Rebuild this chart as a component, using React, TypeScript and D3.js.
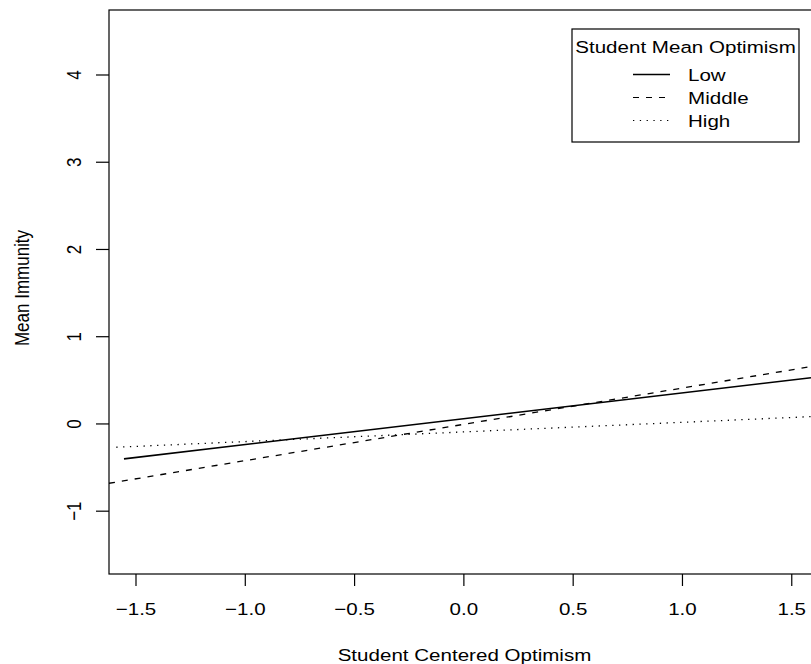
import React, { useRef, useEffect } from 'react';
import * as d3 from 'd3';

// series: fitted simple slopes (endpoints only)
const seriesNames = ['Low', 'Middle', 'High'];
const seriesXStart = [-1.555, -1.6235, -1.59];
const seriesXEnd = [1.588, 1.588, 1.588];
const seriesYStart = [-0.4, -0.68, -0.267];
const seriesYEnd = [0.53, 0.657, 0.084];
const seriesDash = ['', '6,7', '1.3,5.5'];

const xTicks = [-1.5, -1.0, -0.5, 0.0, 0.5, 1.0, 1.5];
const yTicks = [-1, 0, 1, 2, 3, 4];
const xDomain = [-1.6235, 1.588];
const yDomain = [-1.72, 4.745];

const W = 811;
const H = 664;
const margin = { top: 10, right: 0, bottom: 90, left: 109 };
const FONT = '"Liberation Sans", Arial, Helvetica, sans-serif';
const SX = 1.21; // the reference is stretched horizontally

const fmt = (v: number, digits: number) => v.toFixed(digits).replace('-', '\u2212');

const App = () => {
  const svgRef = useRef<SVGSVGElement>(null);

  useEffect(() => {
    const svg = d3.select(svgRef.current);
    svg.selectAll('*').remove();

    const x = d3.scaleLinear().domain(xDomain).range([margin.left, W - margin.right]);
    const y = d3.scaleLinear().domain(yDomain).range([H - margin.bottom, margin.top]);

    const text = (g: any, tx: number, ty: number, s: string, anchor: string, rot = 0) =>
      g
        .append('text')
        .attr('transform', `translate(${tx},${ty}) scale(${SX},1)${rot ? ` rotate(${rot})` : ''}`)
        .attr('text-anchor', anchor)
        .attr('font-family', FONT)
        .attr('font-size', 17)
        .attr('fill', '#000')
        .text(s);

    svg
      .append('defs')
      .append('clipPath')
      .attr('id', 'plotclip')
      .append('rect')
      .attr('x', margin.left)
      .attr('y', margin.top)
      .attr('width', W - margin.left - margin.right)
      .attr('height', H - margin.top - margin.bottom);

    // lines
    const line = d3
      .line<[number, number]>()
      .x(d => x(d[0]))
      .y(d => y(d[1]));
    const lines = svg.append('g').attr('clip-path', 'url(#plotclip)');
    seriesNames.forEach((name, i) => {
      const pts: [number, number][] = [
        [seriesXStart[i], seriesYStart[i]],
        [seriesXEnd[i], seriesYEnd[i]],
      ];
      lines
        .append('path')
        .datum(pts)
        .attr('d', line)
        .attr('fill', 'none')
        .attr('stroke', '#000')
        .attr('stroke-width', i === 0 ? 1.6 : 1.3)
        .attr('stroke-dasharray', seriesDash[i] || null);
    });

    // plot box
    svg
      .append('rect')
      .attr('x', margin.left)
      .attr('y', margin.top)
      .attr('width', W - margin.left - margin.right + 2)
      .attr('height', H - margin.top - margin.bottom)
      .attr('fill', 'none')
      .attr('stroke', '#000')
      .attr('stroke-width', 1.2);

    // x axis
    const xa = svg.append('g');
    const x0 = H - margin.bottom;
    xTicks.forEach(t => {
      xa.append('line')
        .attr('x1', x(t)).attr('x2', x(t))
        .attr('y1', x0).attr('y2', x0 + 12)
        .attr('stroke', '#000').attr('stroke-width', 1.2);
      text(xa, x(t), 615, fmt(t, 1), 'middle');
    });
    text(xa, 464.5, 661, 'Student Centered Optimism', 'middle');

    // y axis
    const ya = svg.append('g');
    yTicks.forEach(t => {
      ya.append('line')
        .attr('x1', margin.left - 13).attr('x2', margin.left)
        .attr('y1', y(t)).attr('y2', y(t))
        .attr('stroke', '#000').attr('stroke-width', 1.2);
      text(ya, 80.5, y(t), fmt(t, 0), 'middle', -90);
    });
    text(ya, 29, (margin.top + H - margin.bottom) / 2 - 4, 'Mean Immunity', 'middle', -90);

    // legend
    const lg = svg.append('g');
    const lx0 = 572;
    const lx1 = 799;
    lg.append('rect')
      .attr('x', lx0).attr('y', 29)
      .attr('width', lx1 - lx0).attr('height', 113)
      .attr('fill', '#fff').attr('stroke', '#000').attr('stroke-width', 1.2);
    text(lg, (lx0 + lx1) / 2, 53, 'Student Mean Optimism', 'middle');
    const rowY = [74.5, 97.5, 120.5];
    seriesNames.forEach((name, i) => {
      lg.append('line')
        .attr('x1', 633).attr('x2', 670)
        .attr('y1', rowY[i]).attr('y2', rowY[i])
        .attr('stroke', '#000')
        .attr('stroke-width', i === 0 ? 1.3 : 1.2)
        .attr('stroke-dasharray', seriesDash[i] || null);
      text(lg, 688, rowY[i] + 6, name, 'start');
    });
  }, []);

  return <svg ref={svgRef} width={W} height={H} style={{ position: 'absolute', left: 0, top: 0, background: '#fff' }} />;
};

export default App;
